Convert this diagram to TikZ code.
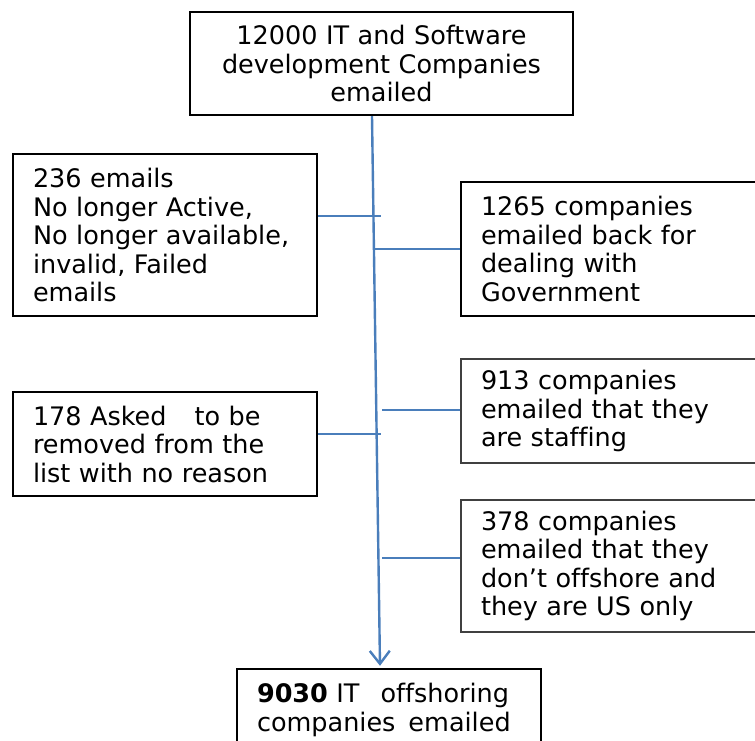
\documentclass[tikz,border=0pt]{standalone}
\usepackage{fontspec}
\setmainfont[Ligatures=NoCommon]{DejaVu Sans}
\usetikzlibrary{arrows.meta,calc}
\definecolor{linkblue}{HTML}{4A7EBB}
\definecolor{boxgray}{HTML}{404040}
\begin{document}
\begin{tikzpicture}[x=1pt,y=-1pt,
  every node/.style={font=\fontsize{25.5}{28.5}\selectfont},
  box/.style={draw=black, line width=2.4pt, rectangle, inner xsep=20pt, inner ysep=0pt, align=left},
  thinbox/.style={box, draw=boxgray, line width=1.5pt},
  link/.style={draw=linkblue, line width=2pt},
  trunk/.style={draw=linkblue, line width=2.4pt, -{Straight Barb[length=13pt,width=20pt]}}]
\clip (0,0) rectangle (755,740);

% source and result
\node[box, align=center, text width=343pt, minimum height=103pt] (top) at (381.5,63.5)
  {12000 IT and Software\\development Companies\\emailed};
\node[box, text width=264pt, minimum height=82pt] (b9030) at (389,710)
  {\textbf{9030} IT\hspace{21pt}offshoring\\companies\hspace{13pt}emailed};

% removals on the left
\node[box, text width=264pt, minimum height=162pt] (b236) at (165,235)
  {236 emails\\No longer Active,\\No longer available,\\invalid, Failed\\emails};
\node[box, text width=264pt, minimum height=104pt] (b178) at (165,444)
  {178 Asked\hspace{28pt}to be\\removed from the\\list with no reason};

% removals on the right
\node[box, text width=290pt, minimum height=134pt] (b1265) at (626,249)
  {1265 companies\\emailed back for\\dealing with\\Government};
\node[thinbox, text width=290pt, minimum height=104pt] (b913) at (626,411)
  {913 companies\\emailed that they\\are staffing};
\node[thinbox, text width=290pt, minimum height=132pt] (b378) at (626,566)
  {378 companies\\emailed that they\\don’t offshore and\\they are US only};

% main flow line
\draw[trunk] ($(top.south)+(-9.5,0)$) -- ($(b9030.north)+(-9,-2)$);

% branch points on the main line
\coordinate (c236) at (381,216);
\coordinate (c178) at (381,434);
\coordinate (c1265) at (375,249);
\coordinate (c913) at (382,410);
\coordinate (c378) at (382,558);

\draw[link] (b236.east |- c236) -- (c236);
\draw[link] (b178.east |- c178) -- (c178);
\draw[link] (c1265) -- (c1265 -| b1265.west);
\draw[link] (c913) -- (c913 -| b913.west);
\draw[link] (c378) -- (c378 -| b378.west);
\end{tikzpicture}
\end{document}
